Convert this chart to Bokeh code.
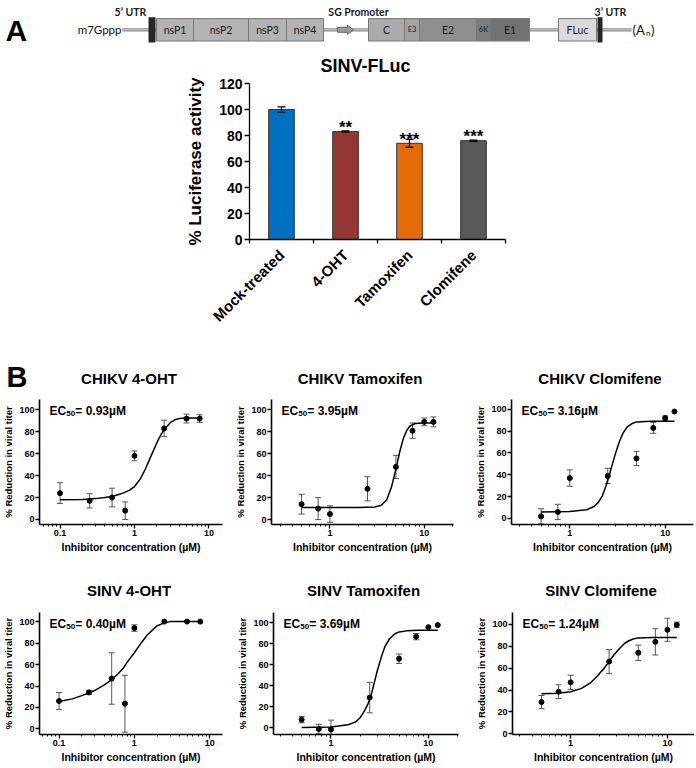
import math
from bokeh.plotting import figure
from bokeh.layouts import column, row
from bokeh.models import (Range1d, FixedTicker, NumeralTickFormatter, Label, ColumnDataSource)
from bokeh.embed import file_html
from bokeh.resources import INLINE
from bokeh.core.properties import value

FONT = "Liberation Sans"
DFONT = "Lato"

# ---------------- Panel A: genome schematic (positions in schematic units) ----------------
gene_names = ["nsP1", "nsP2", "nsP3", "nsP4", "C", "E3", "E2", "6K", "E1", "FLuc"]
gene_start = [156, 193, 248, 286, 368, 404, 419, 476, 490, 558]
gene_end = [193, 248, 286, 323, 404, 419, 476, 490, 529, 596]
gene_fill = ["#b3b3b3", "#b3b3b3", "#b3b3b3", "#b3b3b3",
             "#ababab", "#a2a2a2", "#8f8f8f", "#7e7e7e", "#727272", "#dadada"]
utr_start = [148, 597]
utr_end = [155, 602]
backbone = [122, 631]
sg_promoter = [337, 353]
region_labels = ["5\u2019 UTR", "SG Promoter", "3\u2019 UTR"]
region_pos = [130, 358, 610]

# ---------------- Panel A: luciferase bar chart ----------------
bar_title = "SINV-FLuc"
bar_cats = ["Mock-treated", "4-OHT", "Tamoxifen", "Clomifene"]
bar_vals = [100, 83, 74, 76]
bar_errs = [2, 0.5, 3, 0.5]
bar_sig = ["", "**", "***", "***"]
bar_colors = ["#0070C0", "#943634", "#E36C09", "#595959"]

# ---------------- Panel B: dose-response data ----------------
conc_chikv_4oht = [0.1, 0.25, 0.5, 0.75, 1, 2.5, 5, 7.5]
resp_chikv_4oht = [24, 17, 20, 8, 58, 83, 92, 92]
err_chikv_4oht = [9.5, 6.5, 8.5, 8, 4.5, 7.5, 4, 3.5]
fitx_chikv_4oht = [0.1, 0.2, 0.3, 0.4, 0.5, 0.6, 0.7, 0.85, 1.0, 1.2, 1.4, 1.6, 1.8, 2.0, 2.25, 2.5, 3.0, 3.5, 4.0, 5.0, 7.5]
fity_chikv_4oht = [18, 18.3, 19, 20, 21, 22.5, 24, 26.5, 30, 37, 46, 55, 63, 70, 77, 82, 88, 91, 92, 92.5, 92.5]

conc_chikv_tam = [0.5, 0.75, 1, 2.5, 5, 7.5, 10, 12.5]
resp_chikv_tam = [14, 10, 5, 28, 48, 81, 89, 89]
err_chikv_tam = [9, 10, 7.5, 11, 10.5, 7, 3.5, 4.5]
fitx_chikv_tam = [0.5, 1, 2, 3, 3.5, 4, 4.5, 5, 5.5, 6, 6.5, 7, 8, 10, 12.5]
fity_chikv_tam = [11, 11, 11, 11.5, 13, 18, 30, 46, 62, 74, 81, 85, 87.5, 88, 88]

conc_chikv_clo = [0.5, 0.75, 1, 2.5, 5, 7.5, 10, 12.5]
resp_chikv_clo = [2, 6, 37, 39, 55, 83, 92, 98]
err_chikv_clo = [7, 7, 7.5, 7, 6.5, 5, 2, 0]
fitx_chikv_clo = [0.5, 1, 1.5, 1.8, 2.0, 2.2, 2.4, 2.6, 2.8, 3.0, 3.3, 3.6, 4.0, 4.5, 5, 7, 12.5]
fity_chikv_clo = [6, 6.5, 8, 11, 15, 21, 30, 40, 50, 59, 70, 78, 84, 87, 88.5, 89, 89]

conc_sinv_4oht = [0.1, 0.25, 0.5, 0.75, 1, 2.5, 5, 7.5]
resp_sinv_4oht = [26, 34, 47, 23.5, 94, 100, 100, 100]
err_sinv_4oht = [8, 2, 24, 26.5, 3, 0, 0, 0]
fitx_sinv_4oht = [0.1, 0.15, 0.2, 0.25, 0.3, 0.4, 0.5, 0.6, 0.7, 0.8, 1.0, 1.2, 1.5, 2.0, 2.5, 3, 5, 7.5]
fity_sinv_4oht = [25.5, 28, 31, 33.5, 36, 41, 46, 51, 56, 62, 71, 79, 88, 96, 99, 100, 100, 100]

conc_sinv_tam = [0.5, 0.75, 1, 2.5, 5, 7.5, 10, 12.5]
resp_sinv_tam = [8, -1, -1.5, 29, 66, 87, 96, 98]
err_sinv_tam = [3, 4.5, 9, 14.5, 4.5, 3, 0, 0]
fitx_sinv_tam = [0.5, 1, 1.5, 1.8, 2.0, 2.2, 2.4, 2.6, 2.8, 3.0, 3.3, 3.6, 4.0, 4.5, 5, 6, 8, 12.5]
fity_sinv_tam = [0.5, 1, 3, 6, 10, 16, 23, 32, 44, 55, 68, 78, 85, 89.5, 91.5, 92.5, 93, 93]

conc_sinv_clo = [0.5, 0.75, 1, 2.5, 5, 7.5, 10, 12.5]
resp_sinv_clo = [29, 38.5, 47, 66, 74, 84, 95, 99.5]
err_sinv_clo = [6, 6.3, 6.5, 11, 7, 12, 10.5, 2.5]
fitx_sinv_clo = [0.5, 0.75, 1, 1.3, 1.6, 1.9, 2.2, 2.5, 2.8, 3.2, 3.6, 4.0, 4.5, 5, 7, 12.5]
fity_sinv_clo = [36.5, 37, 38.5, 41.5, 46.5, 53, 59.5, 66, 72, 78, 82.5, 85, 86.8, 87.5, 88, 88]

y_ticks = [0, 20, 40, 60, 80, 100]
x_major = [0.1, 1, 10]
x_minor = [m * 10.0 ** k for k in range(-2, 2) for m in range(2, 10)]

# ---------------- layout constants (pixels) ----------------
PAGE_W = 694
ROW3 = [dict(W=232, L=35, R=10), dict(W=240, L=34, R=19), dict(W=222, L=34, R=1)]
ROW4 = [dict(W=234, L=35, R=12), dict(W=239, L=34, R=15), dict(W=221, L=34, R=0)]


def base_fig(**kw):
    p = figure(output_backend="svg", toolbar_location=None, outline_line_color=None, **kw)
    p.grid.visible = False
    return p


def canvas_fig(height, ref_top):
    # a text/drawing strip whose data coordinates equal page pixel positions
    return base_fig(width=PAGE_W, height=height, x_range=Range1d(0, PAGE_W),
                    y_range=Range1d(ref_top + height, ref_top),
                    x_axis_location=None, y_axis_location=None,
                    min_border_left=0, min_border_right=0, min_border_top=0, min_border_bottom=0)


def frame_centers(specs):
    out, x0 = [], 0
    for s in specs:
        out.append(x0 + s["L"] + (s["W"] - s["L"] - s["R"]) / 2)
        x0 += s["W"]
    return out


# ================= Top: genome schematic + bar-chart title =================
pt = canvas_fig(75, 0)
ty = 29.3
pt.line(x=backbone, y=[ty, ty], line_color="#8a8a8a", line_width=3.2)
pt.line(x=backbone, y=[ty, ty], line_color="#d4d4d4", line_width=1)
pt.quad(left=gene_start, right=gene_end, top=[ty - 11.2] * len(gene_start),
        bottom=[ty + 11.2] * len(gene_start), fill_color=gene_fill,
        line_color="#777777", line_width=1)
pt.quad(left=utr_start, right=utr_end, top=[ty - 12.6] * 2, bottom=[ty + 12.6] * 2,
        fill_color="#262626", line_color=None)
a0, a1 = sg_promoter
am = a0 + 0.62 * (a1 - a0)
pt.patch(x=[a0, am, am, a1, am, am, a0], y=[ty - 2.5, ty - 2.5, ty - 4.6, ty, ty + 4.6, ty + 2.5, ty + 2.5],
         fill_color="#9a9a9a", line_color="#666666", line_width=1)
big = [i for i in range(len(gene_names)) if gene_end[i] - gene_start[i] >= 20]
small = [i for i in range(len(gene_names)) if gene_end[i] - gene_start[i] < 20]
pt.text(x=[(gene_start[i] + gene_end[i]) / 2 for i in big], y=[ty] * len(big),
        text=[gene_names[i] for i in big], text_align="center", text_baseline="middle",
        text_font=value(DFONT), text_font_size="10.5px", text_color="#1a1a1a")
pt.text(x=[(gene_start[i] + gene_end[i]) / 2 for i in small], y=[ty] * len(small),
        text=[gene_names[i] for i in small], text_align="center", text_baseline="middle",
        text_font=value(DFONT), text_font_size="7.5px", text_color="#1a1a1a")
pt.text(x=region_pos, y=[11] * 3, text=region_labels, text_align="center", text_baseline="middle",
        text_font=value(DFONT), text_font_size="10.5px", text_font_style="bold", text_color="#1a1a1a")
pt.text(x=[backbone[0] - 1], y=[ty], text=["m7Gppp"], text_align="right", text_baseline="middle",
        text_font=value(DFONT), text_font_size="11.5px", text_color="#111111")
pt.text(x=[backbone[1] + 1] * 3, y=[ty] * 3, text=["(A", "n", ")"], x_offset=[0, 13.5, 18.5],
        y_offset=[0, 3, 0], text_align="left", text_baseline="middle",
        text_font=value(DFONT), text_font_size=["13px", "8px", "13px"], text_color="#111111")
pt.text(x=[5], y=[30], text=["A"], text_align="left", text_baseline="alphabetic",
        text_font=value(FONT), text_font_size="30px", text_font_style="bold", text_color="black")
pt.text(x=[365], y=[65], text=[bar_title], text_align="center", text_baseline="middle",
        text_font=value(FONT), text_font_size="18px", text_font_style="bold", text_color="black")

# ================= Bar chart =================
n_cat = len(bar_cats)
slot_center = [i + 0.5 for i in range(n_cat)]
pb = base_fig(width=PAGE_W, height=270, x_range=Range1d(0, n_cat), y_range=Range1d(0, 120),
              min_border_left=249, min_border_right=PAGE_W - 505, min_border_top=8,
              min_border_bottom=106)
bsrc = ColumnDataSource(dict(x=slot_center, val=bar_vals, color=bar_colors,
                             lo=[v - e for v, e in zip(bar_vals, bar_errs)],
                             hi=[v + e for v, e in zip(bar_vals, bar_errs)], sig=bar_sig))
pb.vbar(x="x", top="val", width=0.4, fill_color="color", line_color="#333333",
        line_width=1, source=bsrc)
pb.segment(x0="x", y0="lo", x1="x", y1="hi", line_color="black", line_width=1.2, source=bsrc)
pb.scatter(x="x", y="lo", marker="dash", size=8, line_color="black", line_width=1.2, source=bsrc)
pb.scatter(x="x", y="hi", marker="dash", size=8, line_color="black", line_width=1.2, source=bsrc)
pb.text(x="x", y="val", text="sig", source=bsrc, text_align="center", text_baseline="alphabetic",
        y_offset=-4, text_font=value(FONT), text_font_size="17px", text_font_style="bold",
        text_color="black")
ya = pb.yaxis[0]
ya.ticker = FixedTicker(ticks=[0, 20, 40, 60, 80, 100, 120])
ya.minor_tick_line_color = None
ya.major_tick_out = 5
ya.major_tick_in = 0
ya.axis_line_width = 1.3
ya.major_tick_line_width = 1.3
ya.axis_line_color = "black"
ya.major_tick_line_color = "black"
ya.major_label_text_font = FONT
ya.major_label_text_font_size = "14px"
ya.major_label_text_font_style = "bold"
ya.major_label_text_color = "black"
ya.major_label_standoff = 2
ya.axis_label = "% Luciferase activity"
ya.axis_label_text_font = FONT
ya.axis_label_text_font_size = "17px"
ya.axis_label_text_font_style = "bold"
ya.axis_label_text_color = "black"
ya.axis_label_standoff = 11
xa = pb.xaxis[0]
xa.ticker = FixedTicker(ticks=slot_center, minor_ticks=list(range(n_cat + 1)))
xa.major_label_overrides = {c: name for c, name in zip(slot_center, bar_cats)}
xa.major_tick_line_color = None
xa.major_tick_out = 0
xa.major_tick_in = 0
xa.minor_tick_out = 4
xa.minor_tick_in = 0
xa.minor_tick_line_width = 1.3
xa.minor_tick_line_color = "black"
xa.axis_line_width = 1.3
xa.axis_line_color = "black"
xa.major_label_orientation = math.pi / 4
xa.major_label_text_font = FONT
xa.major_label_text_font_size = "15px"
xa.major_label_text_font_style = "bold"
xa.major_label_text_color = "black"
xa.major_label_standoff = 9

# ================= strips with "B" and panel titles =================
titles_row3 = ["CHIKV 4-OHT", "CHIKV Tamoxifen", "CHIKV Clomifene"]
titles_row4 = ["SINV 4-OHT", "SINV Tamoxifen", "SINV Clomifene"]

ps1 = canvas_fig(46, 345)
ps1.text(x=[6], y=[376], text=["B"], text_align="left", text_baseline="alphabetic",
         text_font=value(FONT), text_font_size="29px", text_font_style="bold", text_color="black")
ps1.text(x=frame_centers(ROW3), y=[378] * 3, text=titles_row3, text_align="center",
         text_baseline="middle", text_font=value(FONT), text_font_size="15px",
         text_font_style="bold", text_color="black")

ps2 = canvas_fig(46, 558)
ps2.text(x=frame_centers(ROW4), y=[590] * 3, text=titles_row4, text_align="center",
         text_baseline="middle", text_font=value(FONT), text_font_size="15px",
         text_font_style="bold", text_color="black")


# ================= Dose-response panels =================
def dose_panel(ec50, conc, resp, err, fx, fy, xr, yr, W, L, R, H, T, B):
    p = base_fig(width=W, height=H, x_axis_type="log", x_range=Range1d(*xr), y_range=Range1d(*yr),
                 min_border_left=L, min_border_right=R, min_border_top=T, min_border_bottom=B)
    xax, yax = p.xaxis[0], p.yaxis[0]
    for ax in (xax, yax):
        ax.axis_line_width = 1.6
        ax.axis_line_color = "black"
        ax.major_tick_line_width = 1.3
        ax.major_tick_line_color = "black"
        ax.major_tick_in = 0
        ax.major_label_text_font = FONT
        ax.major_label_text_font_style = "bold"
        ax.major_label_text_font_size = "9px"
        ax.major_label_text_color = "black"
        ax.axis_label_text_font = FONT
        ax.axis_label_text_font_style = "bold"
        ax.axis_label_text_color = "black"
    xax.ticker = FixedTicker(ticks=x_major, minor_ticks=x_minor)
    xax.formatter = NumeralTickFormatter(format="0.[0]")
    xax.major_tick_out = 4
    xax.minor_tick_out = 2
    xax.minor_tick_in = 0
    xax.minor_tick_line_color = "black"
    xax.minor_tick_line_width = 1
    xax.major_label_standoff = 1
    xax.axis_label = "Inhibitor concentration (\u00b5M)"
    xax.axis_label_text_font_size = "10.5px"
    xax.axis_label_standoff = 2
    yax.ticker = FixedTicker(ticks=y_ticks)
    yax.minor_tick_line_color = None
    yax.major_tick_out = 4
    yax.major_label_standoff = 1
    yax.axis_label = "% Reduction in viral titer"
    yax.axis_label_text_font_size = "9.5px"
    yax.axis_label_standoff = 2

    lo = [r - e for r, e in zip(resp, err)]
    hi = [r + e for r, e in zip(resp, err)]
    src = ColumnDataSource(dict(x=conc, y=resp, lo=lo, hi=hi))
    p.segment(x0="x", y0="lo", x1="x", y1="hi", source=src, line_color="#555555", line_width=1)
    cx = [c for c, e in zip(conc, err) if e > 0]
    clo = [l for l, e in zip(lo, err) if e > 0]
    chi = [h for h, e in zip(hi, err) if e > 0]
    p.scatter(x=cx + cx, y=clo + chi, marker="dash", size=6, line_color="#555555", line_width=1)
    p.line(x=fx, y=fy, line_color="black", line_width=1.5)
    p.scatter(x="x", y="y", source=src, size=5, fill_color="black", line_color="black")

    common = dict(text_font=FONT, text_font_style="bold", text_color="black")
    p.add_layout(Label(x=xr[0], y=yr[1], x_offset=10, y_offset=-11, text="EC",
                       text_font_size="12px", text_align="left", text_baseline="alphabetic", **common))
    p.add_layout(Label(x=xr[0], y=yr[1], x_offset=26.8, y_offset=-13.5, text="50",
                       text_font_size="8px", text_align="left", text_baseline="alphabetic", **common))
    p.add_layout(Label(x=xr[0], y=yr[1], x_offset=35.8, y_offset=-11, text="= " + ec50 + "\u00b5M",
                       text_font_size="12px", text_align="left", text_baseline="alphabetic", **common))
    return p


r3 = dict(H=167, T=8, B=34)
r4 = dict(H=161, T=8, B=29)

p1 = dose_panel("0.93", conc_chikv_4oht, resp_chikv_4oht, err_chikv_4oht,
                fitx_chikv_4oht, fity_chikv_4oht, (0.053, 15.2), (-4.6, 109.4), **ROW3[0], **r3)
p2 = dose_panel("3.95", conc_chikv_tam, resp_chikv_tam, err_chikv_tam,
                fitx_chikv_tam, fity_chikv_tam, (0.24, 20.4), (-4.5, 109.4), **ROW3[1], **r3)
p3 = dose_panel("3.16", conc_chikv_clo, resp_chikv_clo, err_chikv_clo,
                fitx_chikv_clo, fity_chikv_clo, (0.245, 19.8), (-5.5, 109), **ROW3[2], **r3)
p4 = dose_panel("0.40", conc_sinv_4oht, resp_sinv_4oht, err_sinv_4oht,
                fitx_sinv_4oht, fity_sinv_4oht, (0.055, 14.8), (-5.2, 108.5), **ROW4[0], **r4)
p5 = dose_panel("3.69", conc_sinv_tam, resp_sinv_tam, err_sinv_tam,
                fitx_sinv_tam, fity_sinv_tam, (0.257, 20.4), (-6.2, 110), **ROW4[1], **r4)
p6 = dose_panel("1.24", conc_sinv_clo, resp_sinv_clo, err_sinv_clo,
                fitx_sinv_clo, fity_sinv_clo, (0.251, 19.05), (-0.6, 110.8), **ROW4[2], **r4)

layout = column(row(pt), row(pb), row(ps1), row(p1, p2, p3), row(ps2), row(p4, p5, p6))
open("out.html", "w").write(file_html(layout, INLINE))
